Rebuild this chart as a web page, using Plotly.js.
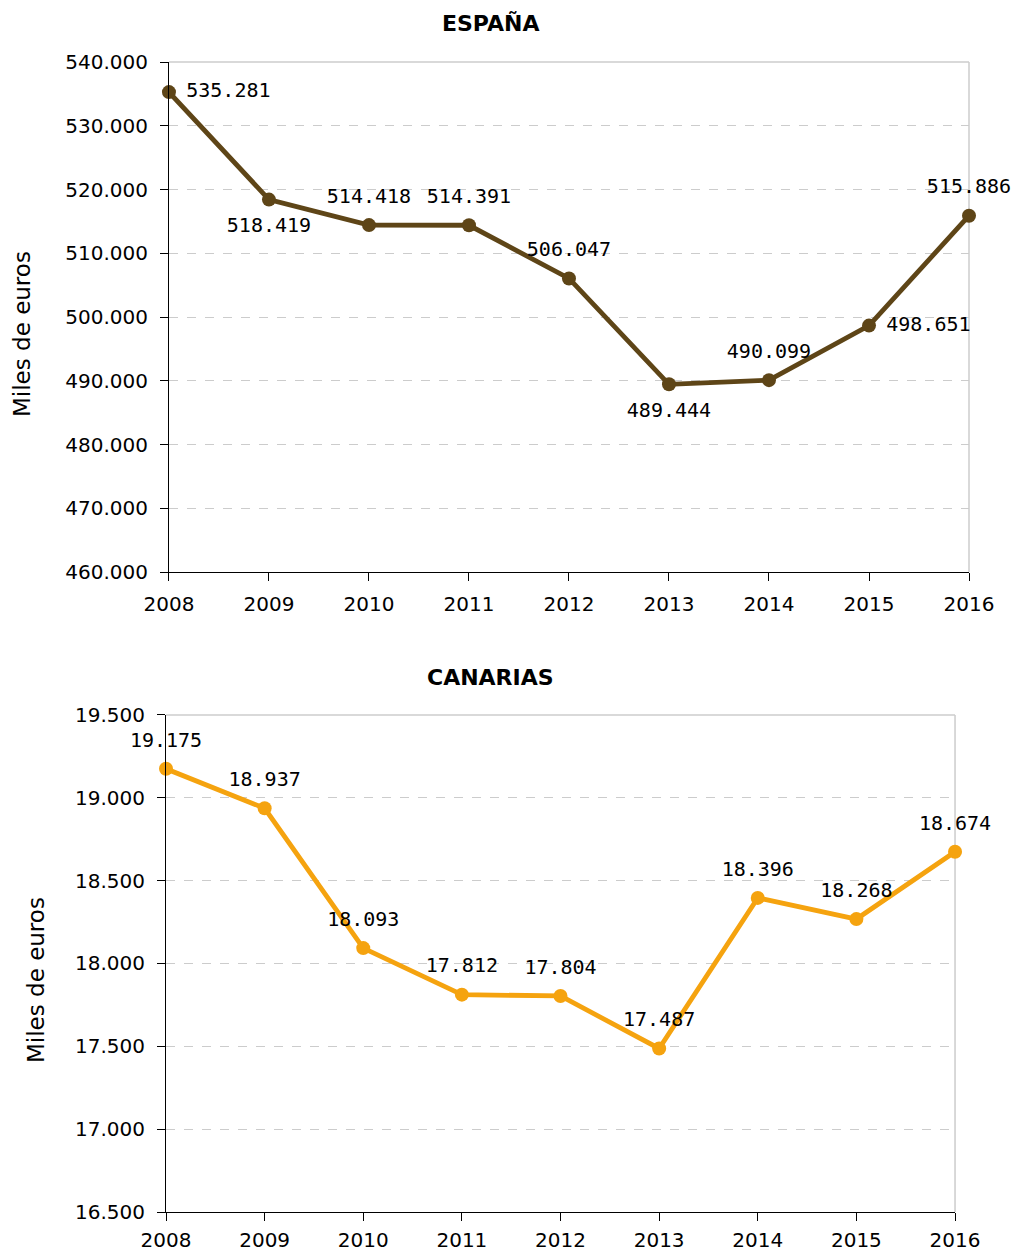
<!DOCTYPE html>
<html>
<head>
<meta charset="utf-8">
<script src="https://cdn.plot.ly/plotly-3.0.1.min.js"></script>
<style>html,body{margin:0;padding:0;background:#fff;}</style>
</head>
<body>
<div id="chart" style="width:1016px;height:1254px;"></div>
<script>
const years = [2008, 2009, 2010, 2011, 2012, 2013, 2014, 2015, 2016];
const espana = [535281, 518419, 514418, 514391, 506047, 489444, 490099, 498651, 515886];
const canarias = [19175, 18937, 18093, 17812, 17804, 17487, 18396, 18268, 18674];
const espanaLabelPos = ['middle right', 'bottom center', 'top center', 'top center', 'top center', 'bottom center', 'top center', 'middle right', 'top center'];
const canariasLabelPos = ['top center', 'top center', 'top center', 'top center', 'top center', 'top center', 'top center', 'top center', 'top center'];
const titleTop = 'ESPAÑA';
const titleBottom = 'CANARIAS';
const yTitle = 'Miles de euros';

const tickFont = {family: 'DejaVu Sans, sans-serif', size: 20, color: '#000'};
const labelFont = {family: 'DejaVu Sans Mono, monospace', size: 20, color: '#000'};

function lineTrace(y, xa, ya, color) {
  return {
    x: years, y: y, xaxis: xa, yaxis: ya,
    type: 'scatter', mode: 'lines+markers',
    line: {color: color, width: 4.8},
    marker: {color: color, size: 14},
    cliponaxis: false, hoverinfo: 'skip'
  };
}
function labelTrace(y, xa, ya, pos) {
  return {
    x: years, y: y, xaxis: xa, yaxis: ya,
    type: 'scatter', mode: 'markers+text',
    marker: {color: 'rgba(0,0,0,0)', size: 26},
    texttemplate: '%{y:,d}', textposition: pos,
    textfont: labelFont, cliponaxis: false, hoverinfo: 'skip'
  };
}

const traces = [
  lineTrace(espana, 'x', 'y', '#5E4517'),
  labelTrace(espana, 'x', 'y', espanaLabelPos),
  lineTrace(canarias, 'x2', 'y2', '#F5A30F'),
  labelTrace(canarias, 'x2', 'y2', canariasLabelPos)
];

const xCommon = {
  tickmode: 'linear', dtick: 1, tickformat: 'd',
  showgrid: false, zeroline: false,
  showline: true, linecolor: '#000', linewidth: 1,
  ticks: 'outside', ticklen: 8, tickcolor: '#000',
  tickfont: tickFont, ticklabelstandoff: 6
};
const yCommon = {
  tickformat: ',d', showgrid: true, gridcolor: '#cccccc', griddash: 'dash', gridwidth: 1,
  zeroline: false, showline: true, linecolor: '#000', linewidth: 1,
  ticks: 'outside', ticklen: 8, tickcolor: '#000', tickfont: tickFont, ticklabelstandoff: 8
};

const layout = {
  width: 1016, height: 1254,
  margin: {l: 166, r: 47, t: 62, b: 42},
  paper_bgcolor: '#fff', plot_bgcolor: '#fff',
  separators: ',.',
  showlegend: false,
  xaxis: Object.assign({}, xCommon, {domain: [0.0037, 1], range: [2008, 2016], anchor: 'y'}),
  yaxis: Object.assign({}, yCommon, {domain: [0.5565, 1], range: [460000, 540000], dtick: 10000, anchor: 'x'}),
  xaxis2: Object.assign({}, xCommon, {domain: [0, 0.9826], range: [2008, 2016], anchor: 'y2', ticklabelstandoff: 2}),
  yaxis2: Object.assign({}, yCommon, {domain: [0, 0.4322], range: [16500, 19500], dtick: 500, anchor: 'x2'}),
  shapes: [
    {type: 'line', xref: 'x domain', yref: 'y domain', x0: 1, x1: 1, y0: 0, y1: 1, line: {color: '#cccccc', width: 1.5}, layer: 'below'},
    {type: 'line', xref: 'x domain', yref: 'y domain', x0: 0, x1: 1, y0: 1, y1: 1, line: {color: '#cccccc', width: 1.5}, layer: 'below'},
    {type: 'line', xref: 'x2 domain', yref: 'y2 domain', x0: 1, x1: 1, y0: 0, y1: 1, line: {color: '#cccccc', width: 1.5}, layer: 'below'},
    {type: 'line', xref: 'x2 domain', yref: 'y2 domain', x0: 0, x1: 1, y0: 1, y1: 1, line: {color: '#cccccc', width: 1.5}, layer: 'below'}
  ],
  annotations: [
    {text: '<b>' + titleTop + '</b>', xref: 'paper', yref: 'paper', x: (490 - 166) / 803, y: 1 + (62 - 23) / 1150, xanchor: 'center', yanchor: 'middle', showarrow: false, font: {family: 'DejaVu Sans, sans-serif', size: 22, color: '#000'}},
    {text: '<b>' + titleBottom + '</b>', xref: 'paper', yref: 'paper', x: (490 - 166) / 803, y: (1212 - 677) / 1150, xanchor: 'center', yanchor: 'middle', showarrow: false, font: {family: 'DejaVu Sans, sans-serif', size: 22, color: '#000'}},
    {text: yTitle, xref: 'paper', yref: 'paper', x: (22 - 166) / 803, y: (1212 - 334) / 1150, xanchor: 'center', yanchor: 'middle', textangle: -90, showarrow: false, font: {family: 'DejaVu Sans, sans-serif', size: 23, color: '#000'}},
    {text: yTitle, xref: 'paper', yref: 'paper', x: (36 - 166) / 803, y: (1212 - 980) / 1150, xanchor: 'center', yanchor: 'middle', textangle: -90, showarrow: false, font: {family: 'DejaVu Sans, sans-serif', size: 23, color: '#000'}}
  ]
};

Plotly.newPlot('chart', traces, layout, {displayModeBar: false, staticPlot: true});
</script>
</body>
</html>
